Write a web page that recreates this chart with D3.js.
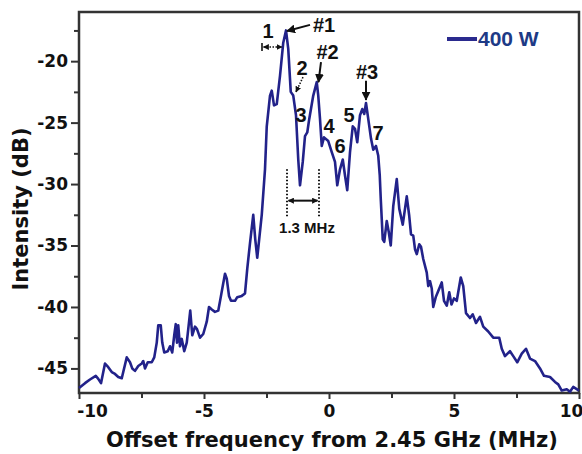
<!DOCTYPE html>
<meta charset="utf-8">
<style>
body { margin: 0; background: #fff; }
svg { display: block; }
.axis text { font-family: "DejaVu Sans", sans-serif; font-weight: bold; font-size: 17px; fill: #111; }
.axis line { stroke: #333; stroke-width: 2px; }
.axis path { display: none; }
.note { font-family: "Liberation Sans", Arial, sans-serif; font-weight: bold; fill: #111; }
</style>
<body>
<script src="https://d3js.org/d3.v7.min.js"></script>
<script>
// spectrum (MHz offset, dB)
var freq = [-10.00,-9.76,-9.56,-9.33,-9.23,-9.12,-8.96,-8.83,-8.69,-8.56,-8.43,-8.29,-8.09,-7.96,-7.87,-7.76,-7.63,-7.49,-7.43,-7.36,
  -7.25,-7.09,-6.99,-6.89,-6.83,-6.73,-6.67,-6.59,-6.45,-6.36,-6.27,-6.19,-6.13,-6.08,-6.03,-5.96,-5.89,-5.79,-5.69,-5.63,
  -5.55,-5.47,-5.36,-5.28,-5.16,-5.03,-4.89,-4.80,-4.69,-4.56,-4.43,-4.33,-4.25,-4.16,-4.09,-4.00,-3.92,-3.76,-3.67,-3.49,
  -3.36,-3.27,-3.16,-3.03,-2.95,-2.87,-2.69,-2.56,-2.49,-2.36,-2.29,-2.20,-2.09,-1.96,-1.83,-1.72,-1.63,-1.53,-1.43,-1.32,
  -1.23,-1.16,-1.05,-0.96,-0.87,-0.79,-0.63,-0.49,-0.43,-0.36,-0.29,-0.20,-0.03,0.11,0.24,0.33,0.44,0.55,0.64,0.73,
  0.84,0.95,1.04,1.13,1.24,1.33,1.41,1.48,1.57,1.68,1.77,1.88,1.97,2.03,2.07,2.15,2.21,2.31,2.39,2.47,
  2.57,2.71,2.81,2.95,3.11,3.21,3.28,3.37,3.44,3.51,3.61,3.68,3.77,3.91,3.97,4.04,4.11,4.17,4.27,4.37,
  4.51,4.60,4.71,4.81,4.90,5.00,5.11,5.27,5.37,5.48,5.64,5.75,5.88,6.04,6.17,6.37,6.57,6.81,6.91,7.04,
  7.24,7.37,7.53,7.71,7.88,8.04,8.24,8.44,8.60,8.84,9.04,9.17,9.31,9.51,9.64,9.77,10.00];
var intensity = [-46.6,-46.2,-45.9,-45.6,-45.85,-46.2,-44.6,-44.9,-45.3,-45.45,-45.7,-45.8,-44.1,-44.5,-45.0,-45.2,-44.8,-44.6,-44.4,-45.0,
  -44.5,-44.5,-44.1,-42.9,-41.5,-41.5,-42.9,-43.7,-43.6,-43.2,-43.7,-42.3,-41.4,-42.9,-41.5,-43.2,-42.6,-43.6,-42.9,-41.8,
  -40.3,-42.3,-41.6,-41.8,-42.5,-42.2,-41.2,-40.0,-40.2,-40.4,-40.3,-39.2,-38.3,-37.3,-37.7,-39.1,-39.5,-39.5,-39.2,-39.1,
  -38.9,-36.9,-34.8,-32.5,-34.5,-36.0,-32.5,-28.8,-25.3,-22.8,-22.4,-23.6,-23.5,-21.2,-18.5,-17.5,-19.0,-22.5,-22.8,-24.4,
  -28.0,-30.1,-28.2,-26.1,-25.8,-24.7,-22.8,-21.7,-22.8,-24.7,-26.9,-26.2,-26.5,-27.4,-28.2,-30.1,-28.8,-28.0,-29.3,-30.5,
  -27.4,-25.3,-25.5,-26.6,-24.4,-23.9,-24.3,-23.4,-24.7,-26.3,-27.2,-26.9,-27.7,-29.3,-31.2,-34.5,-34.7,-33.0,-33.9,-35.0,
  -31.8,-29.6,-32.0,-33.3,-31.0,-32.6,-34.1,-34.2,-35.3,-35.7,-34.9,-35.1,-36.1,-37.2,-38.3,-37.9,-38.5,-40.0,-39.2,-38.7,
  -38.0,-39.5,-39.9,-38.8,-39.8,-39.3,-39.5,-37.6,-38.3,-40.5,-40.9,-40.6,-41.3,-40.8,-41.6,-42.0,-42.5,-42.5,-43.4,-44.0,
  -43.6,-44.0,-44.5,-43.8,-43.4,-44.2,-44.4,-45.0,-45.6,-45.7,-46.1,-46.3,-46.8,-46.7,-46.9,-46.5,-46.8];

var xTicks = [-10, -5, 0, 5, 10];
var xMinor = [-7.5, -2.5, 2.5, 7.5];
var yTicks = [-45, -40, -35, -30, -25, -20];
var yMinor = [-42.5, -37.5, -32.5, -27.5, -22.5, -17.5];

// peak labels, anchored in data units
var peakLabels = ["1", "#1", "2", "3", "#2", "4", "6", "5", "#3", "7"];
var peakLabelX = [-2.44, -0.20, -1.08, -1.12, -0.06, 0.0, 0.44, 0.80, 1.52, 1.96];
var peakLabelY = [-18.1, -17.6, -21.1, -24.95, -19.8, -25.85, -27.5, -24.95, -21.45, -26.4];

var width = 582, height = 454;
var margin = {top: 12, right: 3, bottom: 61, left: 79};

var svg = d3.select("body").append("svg")
    .attr("width", width)
    .attr("height", height);

var x = d3.scaleLinear().domain([-10, 10]).range([margin.left, width - margin.right]);
var y = d3.scaleLinear().domain([-47, -16]).range([height - margin.bottom, margin.top]);

var defs = svg.append("defs");
function marker(id, size) {
  defs.append("marker")
    .attr("id", id)
    .attr("viewBox", "0 0 10 10")
    .attr("refX", 9).attr("refY", 5)
    .attr("markerWidth", size).attr("markerHeight", size)
    .attr("markerUnits", "userSpaceOnUse")
    .attr("orient", "auto-start-reverse")
    .append("path")
    .attr("d", "M0,0L10,5L0,10z")
    .attr("fill", "#111");
}
marker("head", 9);
marker("small", 6);

var fmt = function(d){ return String(d); };

// axes
var gx = svg.append("g").attr("class", "axis")
    .attr("transform", "translate(0," + (height - margin.bottom) + ")")
    .call(d3.axisBottom(x).tickValues(xTicks).tickSize(6).tickPadding(6).tickFormat(fmt));
gx.selectAll(".tick").filter(function(d){ return d === -10; }).select("text").attr("dx", 13);
gx.selectAll(".tick").filter(function(d){ return d === 10; }).select("text").attr("dx", -8);
svg.append("g").attr("class", "axis")
    .attr("transform", "translate(0," + (height - margin.bottom) + ")")
    .call(d3.axisBottom(x).tickValues(xMinor).tickSize(5).tickFormat(""));

svg.append("g").attr("class", "axis")
    .attr("transform", "translate(" + margin.left + ",0)")
    .call(d3.axisLeft(y).tickValues(yTicks).tickSize(8).tickPadding(3).tickFormat(fmt));
svg.append("g").attr("class", "axis")
    .attr("transform", "translate(" + margin.left + ",0)")
    .call(d3.axisLeft(y).tickValues(yMinor).tickSize(5).tickFormat(""));

// frame
svg.append("rect")
    .attr("x", margin.left).attr("y", margin.top)
    .attr("width", width - margin.left - margin.right)
    .attr("height", height - margin.top - margin.bottom)
    .attr("fill", "none")
    .attr("stroke", "#333")
    .attr("stroke-width", 2.5);

// spectrum line
var line = d3.line()
    .x(function(d, i){ return x(freq[i]); })
    .y(function(d){ return y(d); });

svg.append("path")
    .datum(intensity)
    .attr("d", line)
    .attr("fill", "none")
    .attr("stroke", "#22228a")
    .attr("stroke-width", 2.6)
    .attr("stroke-linejoin", "round");

// annotations
svg.selectAll("text.peak")
    .data(peakLabels)
    .enter().append("text")
    .attr("class", "note peak")
    .attr("x", function(d, i){ return x(peakLabelX[i]); })
    .attr("y", function(d, i){ return y(peakLabelY[i]); })
    .attr("text-anchor", "middle")
    .style("font-size", "20px")
    .text(function(d){ return d; });

function arrow(x1, y1, x2, y2, dashed, m, both) {
  var a = svg.append("line")
    .attr("x1", x(x1)).attr("y1", y(y1))
    .attr("x2", x(x2)).attr("y2", y(y2))
    .attr("stroke", "#111")
    .attr("stroke-width", dashed ? 1.6 : 2)
    .attr("marker-end", "url(#" + m + ")");
  if (dashed) a.attr("stroke-dasharray", "1.5,1.5");
  if (both) a.attr("marker-start", "url(#" + m + ")");
  return a;
}
arrow(-0.76, -17.05, -1.68, -17.55, false, "head");
arrow(-0.32, -20.07, -0.42, -21.7, false, "head");
arrow(1.48, -21.6, 1.48, -23.15, false, "head");
arrow(-1.04, -21.3, -1.32, -22.5, true, "small");
arrow(-2.62, -18.85, -1.88, -18.85, true, "small", true);
svg.append("line")
    .attr("x1", x(-2.68)).attr("x2", x(-2.68))
    .attr("y1", y(-18.85) - 4).attr("y2", y(-18.85) + 4)
    .attr("stroke", "#111").attr("stroke-width", 1.6);

// 1.3 MHz spacing marker
[-1.68, -0.40].forEach(function(v){
  svg.append("line")
    .attr("x1", x(v)).attr("x2", x(v))
    .attr("y1", y(-28.8)).attr("y2", y(-32.7))
    .attr("stroke", "#111")
    .attr("stroke-width", 2)
    .attr("stroke-dasharray", "1.5,2");
});
arrow(-1.62, -31.35, -0.46, -31.35, false, "small", true);
svg.append("text")
    .attr("class", "note")
    .attr("x", x(-0.88)).attr("y", y(-34.0))
    .attr("text-anchor", "middle")
    .style("font-size", "15px")
    .text("1.3 MHz");

// legend
svg.append("line")
    .attr("x1", 447).attr("x2", 477)
    .attr("y1", 39).attr("y2", 39)
    .attr("stroke", "#2a2a8e")
    .attr("stroke-width", 4);
svg.append("text")
    .attr("class", "note")
    .attr("x", 478).attr("y", 46)
    .style("font-size", "21px")
    .style("fill", "#1d3a86")
    .text("400 W");

// axis titles
svg.append("text")
    .attr("x", 332).attr("y", 447)
    .attr("text-anchor", "middle")
    .style("font-family", "DejaVu Sans, sans-serif")
    .style("font-weight", "bold")
    .style("font-size", "21px")
    .style("fill", "#111")
    .text("Offset frequency from 2.45 GHz (MHz)");

svg.append("text")
    .attr("transform", "translate(28,209) rotate(-90)")
    .attr("text-anchor", "middle")
    .style("font-family", "DejaVu Sans, sans-serif")
    .style("font-weight", "bold")
    .style("font-size", "21px")
    .style("fill", "#111")
    .text("Intensity (dB)");
</script>
</body>
